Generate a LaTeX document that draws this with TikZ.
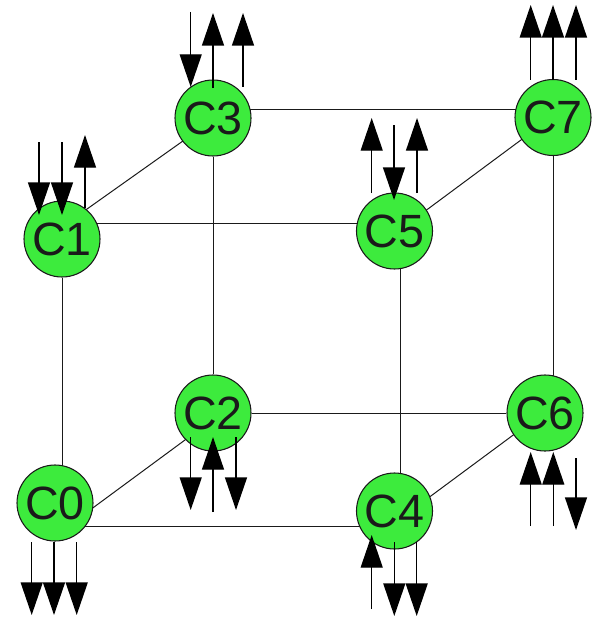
\documentclass[tikz,border=0pt]{standalone}
\usepackage{fontspec}
\setmainfont{Liberation Sans}
\usetikzlibrary{arrows.meta,calc,backgrounds}
\definecolor{cellgreen}{RGB}{61,235,61}
\definecolor{ink}{RGB}{26,26,26}
\tikzset{
  cell/.style={circle,draw=ink,line width=0.8pt,fill=cellgreen,minimum size=57pt,
    inner sep=0pt,text=ink,font=\fontsize{35}{40}\selectfont},
  edge/.style={draw=ink,line width=0.75pt},
  sig/.style={draw=black,line width=1pt,-{Triangle[width=16.5pt,length=24.5pt]}}
}
\begin{document}
\begin{tikzpicture}[x=0.75pt,y=-0.75pt]
\useasboundingbox (0,0) rectangle (593,617);
% cube vertices
\node[cell] (C0) at (55,503) {C0};
\node[cell] (C1) at (62,239) {C1};
\node[cell] (C2) at (213,413) {C2};
\node[cell] (C3) at (213,118) {C3};
\node[cell] (C4) at (394.5,511) {C4};
\node[cell] (C5) at (394.5,231) {C5};
\node[cell] (C6) at (545,413) {C6};
\node[cell] (C7) at (553,117.5) {C7};
% cube edges, behind the vertices
\begin{scope}[on background layer]
\draw[edge] (C1) -- ($(C0)+(7,0)$);
\draw[edge] ($(C1)+(0,-16)$) -- ($(C5)+(0,-8)$);
\draw[edge] ($(C3)+(0,-9)$) -- ($(C7)+(0,-8.5)$);
\draw[edge] (C3) -- (C2);
\draw[edge] (C2) -- (C6);
\draw[edge] ($(C0)+(0,23)$) -- ($(C4)+(0,15)$);
\draw[edge] ($(C5)+(5.5,0)$) -- ($(C4)+(5.5,0)$);
\draw[edge] (C7) -- ($(C6)+(8,0)$);
\draw[edge] ($(C1)+(18,-25)$) -- ($(C3)+(-23,18)$);
\draw[edge] ($(C5)+(28,-18)$) -- ($(C7)+(-28,19.5)$);
\draw[edge] ($(C0)+(30,10.7)$) -- ($(C2)+(-23,23.3)$);
\draw[edge] ($(C4)+(28,-8.8)$) -- ($(C6)+(-25,17)$);
\end{scope}
% signals at C0
\draw[sig] ($(C0)+(-23.3,39)$) -- ($(C0)+(-23.3,112)$);
\draw[sig] ($(C0)+(-1,39)$) -- ($(C0)+(-1,112)$);
\draw[sig] ($(C0)+(21.7,39)$) -- ($(C0)+(21.7,112)$);
% signals at C1
\draw[sig] ($(C1)+(-23,-97)$) -- ($(C1)+(-23,-24)$);
\draw[sig] ($(C1)+(0,-97)$) -- ($(C1)+(0,-24)$);
\draw[sig] ($(C1)+(23,-31)$) -- ($(C1)+(23,-104)$);
% signals at C2
\draw[sig] ($(C2)+(-22.3,24)$) -- ($(C2)+(-22.3,97)$);
\draw[sig] ($(C2)+(0,99)$) -- ($(C2)+(0,24)$);
\draw[sig] ($(C2)+(23,24)$) -- ($(C2)+(23,97)$);
% signals at C3
\draw[sig] ($(C3)+(-22.3,-106)$) -- ($(C3)+(-22.3,-31)$);
\draw[sig] ($(C3)+(0,-30)$) -- ($(C3)+(0,-105)$);
\draw[sig] ($(C3)+(30,-31)$) -- ($(C3)+(30,-105)$);
% signals at C4
\draw[sig] ($(C4)+(-22.8,98)$) -- ($(C4)+(-22.8,24)$);
\draw[sig] ($(C4)+(-0.2,31)$) -- ($(C4)+(-0.2,105)$);
\draw[sig] ($(C4)+(22.2,31)$) -- ($(C4)+(22.2,105)$);
% signals at C5
\draw[sig] ($(C5)+(-22.8,-38)$) -- ($(C5)+(-22.8,-113)$);
\draw[sig] ($(C5)+(-0.5,-106)$) -- ($(C5)+(-0.5,-31)$);
\draw[sig] ($(C5)+(22.5,-38)$) -- ($(C5)+(22.5,-113)$);
% signals at C6
\draw[sig] ($(C6)+(-14.3,113)$) -- ($(C6)+(-14.3,39)$);
\draw[sig] ($(C6)+(8.3,113)$) -- ($(C6)+(8.3,39)$);
\draw[sig] ($(C6)+(31,45)$) -- ($(C6)+(31,117)$);
% signals at C7
\draw[sig] ($(C7)+(-22.3,-37.5)$) -- ($(C7)+(-22.3,-112.5)$);
\draw[sig] ($(C7)+(0,-37.5)$) -- ($(C7)+(0,-112.5)$);
\draw[sig] ($(C7)+(23,-37.5)$) -- ($(C7)+(23,-112.5)$);
\end{tikzpicture}
\end{document}
